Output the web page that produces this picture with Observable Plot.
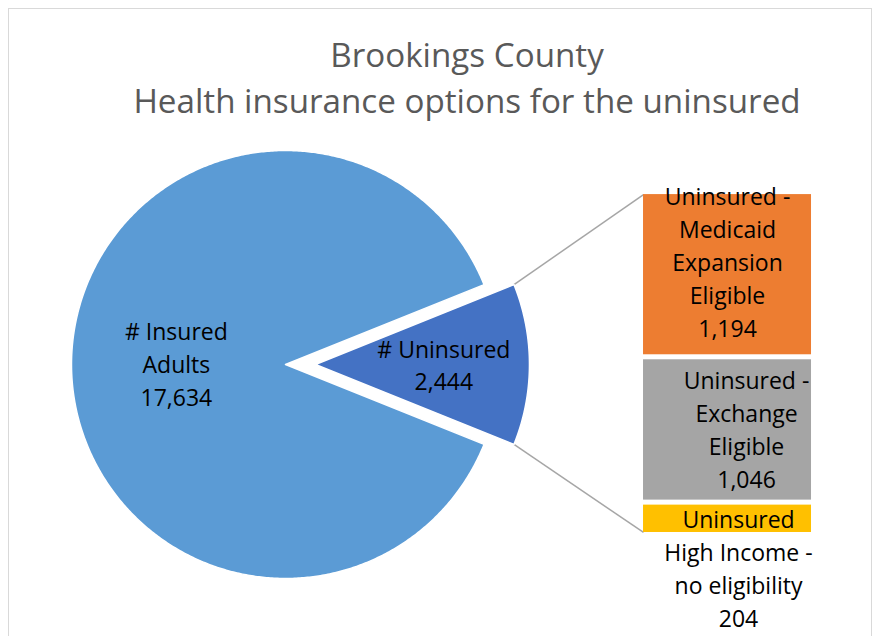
<!DOCTYPE html>
<html><head><meta charset="utf-8">
<script src="https://cdn.jsdelivr.net/npm/d3@7"></script>
<script src="https://cdn.jsdelivr.net/npm/@observablehq/plot@0.6"></script>
<style>
html,body{margin:0;padding:0;background:#fff;overflow:hidden;width:879px;height:636px}
#frame{position:absolute;left:8px;top:8px;width:864px;height:700px;border:1px solid #d9d9d9;box-sizing:border-box}
#chart{position:absolute;left:0;top:0}
#title{position:absolute;left:0;width:934px;top:32px;text-align:center;font-family:"Open Sans",sans-serif;font-size:33.2px;line-height:46px;color:#595959;white-space:nowrap}
</style></head>
<body>
<div id="frame"></div>
<div id="chart"></div>
<div id="title">Brookings County<br>Health insurance options for the uninsured</div>
<script>
// ---- data ----
const pieCategories = ["# Insured Adults", "# Uninsured"];
const pieValues = [17634, 2444];
const pieLabels = ["# Insured\nAdults\n17,634", "# Uninsured\n2,444"];
const barCategories = ["Uninsured - Medicaid Expansion Eligible", "Uninsured - Exchange Eligible", "Uninsured High Income - no eligibility"];
const barValues = [1194, 1046, 204];
const barLabels = ["Uninsured -\nMedicaid\nExpansion\nEligible\n1,194", "Uninsured -\nExchange\nEligible\n1,046", "Uninsured\nHigh Income -\nno eligibility\n204"];
const colors = ["#5b9bd5", "#4472c4", "#ed7d31", "#a5a5a5", "#ffc000"];

// ---- layout ----
const W = 879, H = 636, PX = 214, CX = 285, CY = 364;
const explode = 0.14;
const barX1 = 1.673, barX2 = 2.458, barTop = 0.794, barBottom = -0.785, barGap = 0.0234;
const pieLabelRadius = [0.51, 0.6];
const pieLabelDy = [-2, -1];
const barLabelOffset = [[0, -14], [19, -2], [11, 48]]; // px offsets (right, down)
const fontSize = 23;
const lineHeight = 1.43;

const total = d3.sum(pieValues);
const half = Math.PI * pieValues[1] / total;
const step = Math.PI / 360;

// big slice polygon
const pts = [];
pts.push({cat: pieCategories[0], x: 0, y: 0});
for (let a = half; a <= 2 * Math.PI - half + 1e-9; a += step) pts.push({cat: pieCategories[0], x: Math.cos(a), y: Math.sin(a)});
pts.push({cat: pieCategories[0], x: Math.cos(2 * Math.PI - half), y: Math.sin(2 * Math.PI - half)});
pts.push({cat: pieCategories[0], x: 0, y: 0});
// exploded slice
pts.push({cat: pieCategories[1], x: explode, y: 0});
for (let a = -half; a <= half + 1e-9; a += step) pts.push({cat: pieCategories[1], x: explode + Math.cos(a), y: Math.sin(a)});
pts.push({cat: pieCategories[1], x: explode + Math.cos(half), y: Math.sin(half)});
pts.push({cat: pieCategories[1], x: explode, y: 0});

// bar segments
const unitPerValue = (barTop - barBottom - barGap * (barValues.length - 1)) / d3.sum(barValues);
let cursor = barTop;
const bars = barValues.map((v, i) => {
  const y2 = cursor, y1 = cursor - v * unitPerValue;
  cursor = y1 - barGap;
  return {
    cat: barCategories[i], value: v, y1, y2, label: barLabels[i],
    lx: (barX1 + barX2) / 2 + barLabelOffset[i][0] / PX,
    ly: (y1 + y2) / 2 - barLabelOffset[i][1] / PX
  };
});

const pieText = [
  {x: -pieLabelRadius[0], y: -pieLabelDy[0] / PX, label: pieLabels[0]},
  {x: explode + pieLabelRadius[1], y: -pieLabelDy[1] / PX, label: pieLabels[1]}
];

const connectors = [
  {x1: explode + Math.cos(half), y1: Math.sin(half), x2: barX1, y2: bars[0].y2},
  {x1: explode + Math.cos(half), y1: -Math.sin(half), x2: barX1, y2: bars[bars.length - 1].y1}
];

const chart = Plot.plot({
  width: W, height: H, margin: 0,
  x: {domain: [-CX / PX, (W - CX) / PX], range: [0, W], axis: null},
  y: {domain: [-(H - CY) / PX, CY / PX], range: [H, 0], axis: null},
  color: {domain: [...pieCategories, ...barCategories], range: colors},
  style: {fontFamily: "'Open Sans', sans-serif", background: "transparent", overflow: "visible"},
  marks: [
    Plot.link(connectors, {x1: "x1", y1: "y1", x2: "x2", y2: "y2", stroke: "#a6a6a6", strokeWidth: 1.5}),
    Plot.line(pts, {x: "x", y: "y", z: "cat", fill: "cat", stroke: "white", strokeWidth: 1.5, curve: "linear"}),
    Plot.rect(bars, {x1: barX1, x2: barX2, y1: "y1", y2: "y2", fill: "cat"}),
    Plot.text(pieText, {x: "x", y: "y", text: "label", fontSize, lineHeight, fill: "black"}),
    Plot.text(bars, {x: "lx", y: "ly", text: "label", fontSize, lineHeight, fill: "black"})
  ]
});
document.getElementById("chart").appendChild(chart);
</script>
</body></html>
